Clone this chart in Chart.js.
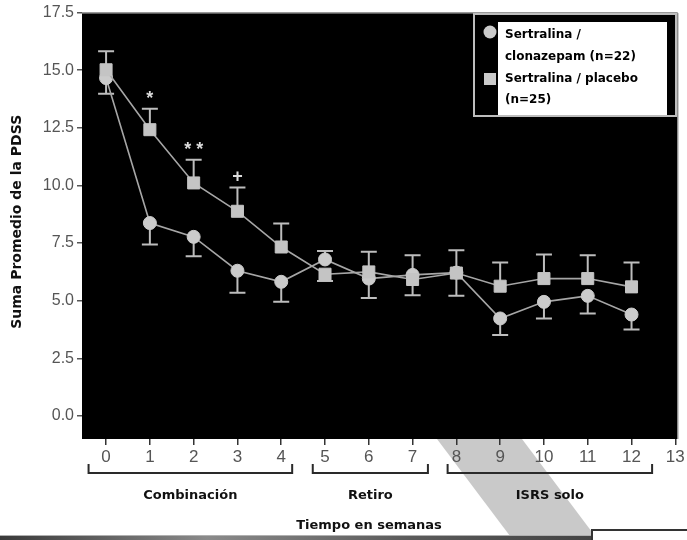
<!DOCTYPE html>
<html><head><meta charset="utf-8">
<script src="https://cdn.jsdelivr.net/npm/chart.js@4"></script>
<style>html,body{margin:0;padding:0;background:#fff}canvas{display:block}</style>
</head><body>
<canvas id="c" width="687" height="540"></canvas>
<script>
// ---- data ----
const weeks = [0, 1, 2, 3, 4, 5, 6, 7, 8, 9, 10, 11, 12];
const xTicks = [0, 1, 2, 3, 4, 5, 6, 7, 8, 9, 10, 11, 12, 13];
const yTicks = [0, 2.5, 5, 7.5, 10, 12.5, 15, 17.5];

const clonazepam     = [14.66, 8.37, 7.77, 6.30, 5.82, 6.79, 5.96, 6.12, 6.22, 4.23, 4.95, 5.21, 4.40];
const clonazepamLow  = [13.98, 7.44, 6.93, 5.34, 4.95, null, 5.12, null, 5.21, 3.51, 4.23, 4.45, 3.75];
const clonazepamHigh = [null, null, null, null, null, 7.16, null, 6.97, null, null, null, null, null];

const placebo     = [15.02, 12.42, 10.11, 8.88, 7.33, 6.15, 6.25, 5.92, 6.20, 5.63, 5.96, 5.96, 5.60];
const placeboHigh = [15.82, 13.33, 11.12, 9.91, 8.35, null, 7.12, null, 7.19, 6.66, 7.00, 6.97, 6.66];
const placeboLow  = [null, null, null, null, null, 5.86, null, 5.24, null, null, null, null, null];

const significance = ['', '*', '**', '+', '', '', '', '', '', '', '', '', ''];

const phaseLabels = ['Combinación', 'Retiro', 'ISRS solo'];
const phaseStart  = [-0.4, 4.72, 7.8];
const phaseEnd    = [4.25, 7.35, 12.47];

const legendClonazepam = ['Sertralina /', 'clonazepam (n=22)'];
const legendPlacebo    = ['Sertralina / placebo', '(n=25)'];
const xTitle = 'Tiempo en semanas';
const yTitle = 'Suma Promedio de la PDSS';

// ---- styles ----
const MARK = '#cbcbcb';
const LINE = '#a6a6a6';
const ERR = '#bdbdbd';
const BOLD = 'bold 13px "DejaVu Sans", sans-serif';

const bgPlugin = {
  id: 'bg',
  beforeDraw(chart) {
    const {ctx, chartArea: a, width, height} = chart;
    ctx.save();
    ctx.fillStyle = '#fff';
    ctx.fillRect(0, 0, width, height);
    // diagonal scan band
    ctx.fillStyle = '#c9c9c9';
    ctx.beginPath();
    ctx.moveTo(437, a.bottom);
    ctx.lineTo(522, a.bottom);
    ctx.lineTo(598, height);
    ctx.lineTo(513, height);
    ctx.closePath();
    ctx.fill();
    // bottom bar
    const g = ctx.createLinearGradient(0, 0, 591, 0);
    g.addColorStop(0, '#3a3a3a');
    g.addColorStop(0.35, '#8a8a8a');
    g.addColorStop(0.7, '#5a5a5a');
    g.addColorStop(1, '#444');
    ctx.fillStyle = g;
    ctx.fillRect(0, 535, 591, 5);
    ctx.fillStyle = '#b0b0b0';
    ctx.fillRect(0, 535, 591, 1);
    // bottom-right box
    ctx.fillStyle = '#fff';
    ctx.fillRect(591, 529, 96, 11);
    ctx.fillStyle = '#333';
    ctx.fillRect(591, 529, 96, 2);
    ctx.fillRect(591, 529, 2, 11);
    // plot background
    ctx.fillStyle = '#000';
    ctx.fillRect(a.left, a.top, a.right - a.left, a.bottom - a.top);
    ctx.strokeStyle = '#9a9a9a';
    ctx.lineWidth = 1;
    ctx.beginPath();
    ctx.moveTo(a.left, a.top + 0.5);
    ctx.lineTo(a.right + 0.5, a.top + 0.5);
    ctx.lineTo(a.right + 0.5, a.bottom);
    ctx.stroke();
    ctx.restore();
  }
};

const errPlugin = {
  id: 'err',
  beforeDatasetsDraw(chart) {
    const {ctx, scales: {x, y}} = chart;
    ctx.save();
    ctx.strokeStyle = ERR;
    ctx.lineWidth = 2;
    const cap = 8;
    const draw = (vals, ends) => {
      weeks.forEach((w, i) => {
        if (ends[i] == null) return;
        const px = x.getPixelForValue(w);
        const p0 = y.getPixelForValue(vals[i]);
        const p1 = y.getPixelForValue(ends[i]);
        ctx.beginPath();
        ctx.moveTo(px, p0); ctx.lineTo(px, p1);
        ctx.moveTo(px - cap, p1); ctx.lineTo(px + cap, p1);
        ctx.stroke();
      });
    };
    draw(placebo, placeboHigh);
    draw(placebo, placeboLow);
    draw(clonazepam, clonazepamLow);
    draw(clonazepam, clonazepamHigh);
    ctx.restore();
  }
};

const decoPlugin = {
  id: 'deco',
  afterDraw(chart) {
    const {ctx, scales: {x, y}, chartArea: a} = chart;
    ctx.save();
    // significance marks
    ctx.fillStyle = '#dcdcdc';
    ctx.font = 'bold 18px "Liberation Sans", sans-serif';
    ctx.textAlign = 'center';
    ctx.textBaseline = 'middle';
    weeks.forEach((w, i) => {
      if (!significance[i]) return;
      const t = significance[i].split('').join(' ');
      const off = significance[i] === '+' ? 11 : 10;
      ctx.fillText(t, x.getPixelForValue(w), y.getPixelForValue(placeboHigh[i]) - off);
    });
    // phase brackets
    ctx.strokeStyle = '#2a2a2a';
    ctx.lineWidth = 2;
    ctx.fillStyle = '#111';
    ctx.font = BOLD;
    phaseLabels.forEach((lab, i) => {
      const x0 = x.getPixelForValue(phaseStart[i]);
      const x1 = x.getPixelForValue(phaseEnd[i]);
      ctx.beginPath();
      ctx.moveTo(x0, 464); ctx.lineTo(x0, 473); ctx.lineTo(x1, 473); ctx.lineTo(x1, 464);
      ctx.stroke();
      ctx.fillText(lab, (x0 + x1) / 2, 496);
    });
    // x title
    ctx.fillText(xTitle, 369, 526);
    // y title
    ctx.save();
    ctx.translate(17, (a.top + a.bottom) / 2 - 4);
    ctx.rotate(-Math.PI / 2);
    ctx.font = 'bold 14px "DejaVu Sans", sans-serif';
    ctx.fillText(yTitle, 0, 0);
    ctx.restore();
    // legend
    ctx.fillStyle = '#000';
    ctx.fillRect(473, 13, 204, 104);
    ctx.strokeStyle = '#bdbdbd';
    ctx.lineWidth = 2;
    ctx.strokeRect(474, 14, 202, 102);
    ctx.fillStyle = '#fff';
    ctx.fillRect(498, 22, 169, 93);
    ctx.fillStyle = MARK;
    ctx.beginPath(); ctx.arc(490, 32, 6.5, 0, Math.PI * 2); ctx.fill();
    ctx.fillRect(484, 73, 12, 12);
    ctx.fillStyle = '#000';
    ctx.font = 'bold 12px "DejaVu Sans", sans-serif';
    ctx.textAlign = 'left';
    ctx.fillText(legendClonazepam[0], 505, 35);
    ctx.fillText(legendClonazepam[1], 505, 57);
    ctx.fillText(legendPlacebo[0], 505, 79);
    ctx.fillText(legendPlacebo[1], 505, 100);
    ctx.restore();
  }
};

const pts = vals => weeks.map((w, i) => ({x: w, y: vals[i]}));

new Chart(document.getElementById('c'), {
  type: 'line',
  data: {
    datasets: [
      {label: 'Sertralina / clonazepam (n=22)', data: pts(clonazepam),
       borderColor: LINE, borderWidth: 1.6, pointStyle: 'circle', pointRadius: 6.5,
       pointBackgroundColor: MARK, pointBorderColor: MARK, pointBorderWidth: 1, order: 2},
      {label: 'Sertralina / placebo (n=25)', data: pts(placebo),
       borderColor: LINE, borderWidth: 1.6, pointStyle: 'rect', pointRadius: 8.5,
       pointBackgroundColor: '#c4c4c4', pointBorderColor: '#c4c4c4', pointBorderWidth: 1, order: 1}
    ]
  },
  options: {
    responsive: false,
    animation: false,
    layout: {padding: {top: 12, right: 7, left: 0, bottom: 0}},
    plugins: {legend: {display: false}, tooltip: {enabled: false}},
    scales: {
      x: {
        type: 'linear', min: -0.55, max: 13.05,
        afterBuildTicks: s => { s.ticks = xTicks.map(v => ({value: v})); },
        afterFit: s => { s.height = 101; },
        grid: {drawOnChartArea: false, drawTicks: true, tickLength: 6, color: '#333', lineWidth: 1.5},
        border: {display: false},
        ticks: {color: '#555', padding: 2, font: {family: '"Liberation Sans Narrow", "Liberation Sans", sans-serif', size: 17},
                maxRotation: 0, autoSkip: false, callback: v => String(v)}
      },
      y: {
        type: 'linear', min: -1, max: 17.5,
        afterBuildTicks: s => { s.ticks = yTicks.map(v => ({value: v})); },
        afterFit: s => { s.width = 82; },
        grid: {drawOnChartArea: false, drawTicks: true, tickLength: 5, color: '#555', lineWidth: 1.5},
        border: {display: false},
        ticks: {color: '#555', padding: 3, font: {family: '"Liberation Sans", sans-serif', size: 16},
                autoSkip: false, callback: v => v.toFixed(1)}
      }
    }
  },
  plugins: [bgPlugin, errPlugin, decoPlugin]
});
</script>
</body></html>
